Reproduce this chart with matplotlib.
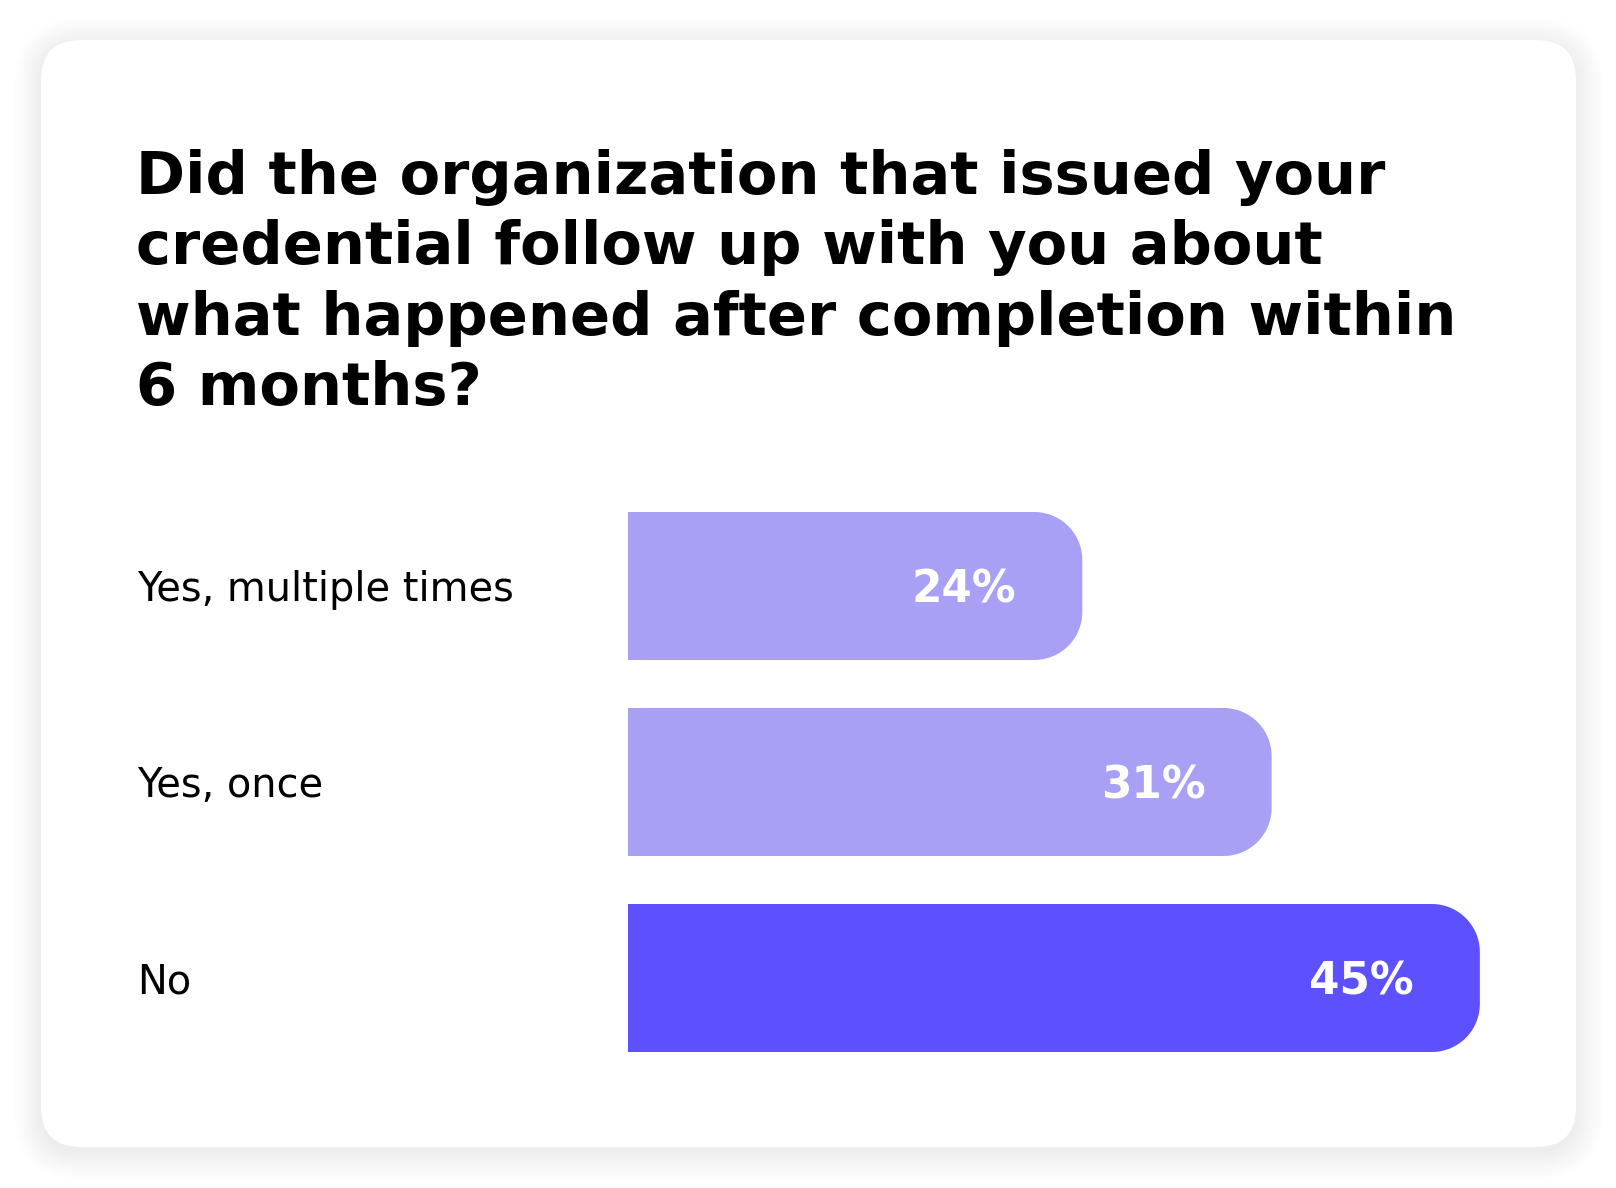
import numpy as np
import matplotlib
matplotlib.use("Agg")
import matplotlib.pyplot as plt
from matplotlib.patches import FancyBboxPatch, Polygon

# ---- data ----
title_lines = [
    "Did the organization that issued your",
    "credential follow up with you about",
    "what happened after completion within",
    "6 months?",
]
categories = ["Yes, multiple times", "Yes, once", "No"]
bar_lengths = [24, 34, 45]          # bar lengths as drawn in the picture
value_labels = ["24%", "31%", "45%"]  # printed labels
bar_colors = ["#A7A0F4", "#A7A0F4", "#5C50FF"]

W, H = 1616, 1188
fig = plt.figure(figsize=(W / 100, H / 100), dpi=100)
fig.patch.set_facecolor("white")

# background axes in pixel coordinates
bg = fig.add_axes([0, 0, 1, 1])
bg.set_xlim(0, W)
bg.set_ylim(H, 0)
bg.axis("off")

cx0, cy0, cx1, cy1 = 41, 40, 1576, 1147
rad = 40
# soft shadow
for i in range(18):
    d = 1.6 * i
    sh = FancyBboxPatch((cx0 - d, cy0 - d + 5), (cx1 - cx0) + 2 * d, (cy1 - cy0) + 2 * d,
                        boxstyle=f"round,pad=0,rounding_size={rad + d}",
                        facecolor="#000000", edgecolor="none", alpha=0.0045, zorder=1)
    bg.add_patch(sh)
card = FancyBboxPatch((cx0, cy0), cx1 - cx0, cy1 - cy0,
                      boxstyle=f"round,pad=0,rounding_size={rad}",
                      facecolor="white", edgecolor="none", zorder=2)
bg.add_patch(card)

# title
for i, line in enumerate(title_lines):
    bg.text(136, 194 + i * 70.3, line, fontsize=42.6, fontweight="bold",
            family="DejaVu Sans", color="#000000", ha="left", va="baseline", zorder=3)

# bar axes
px_per_unit = 18.93
x0_px = 628
xmax = 50
row_px = 196
ax_left = x0_px / W
ax_w = xmax * px_per_unit / W
ax_top_px = 586 - row_px / 2
ax_h_px = 3 * row_px
ax = fig.add_axes([ax_left, 1 - (ax_top_px + ax_h_px) / H, ax_w, ax_h_px / H])
ax.set_xlim(0, xmax)
ax.set_ylim(2.5, -0.5)
ax.patch.set_alpha(0)
for s in ax.spines.values():
    s.set_visible(False)
ax.set_xticks([])

bar_h = 148 / row_px
r_px = 48
rx = r_px / px_per_unit
ry = r_px / row_px
for i, (v, c) in enumerate(zip(bar_lengths, bar_colors)):
    yt = i - bar_h / 2
    yb = i + bar_h / 2
    t1 = np.linspace(-np.pi / 2, 0, 20)
    t2 = np.linspace(0, np.pi / 2, 20)
    pts = [(0, yt), (v - rx, yt)]
    pts += [(v - rx + rx * np.cos(t), yt + ry + ry * np.sin(t)) for t in t1]
    pts += [(v - rx + rx * np.cos(t), yb - ry + ry * np.sin(t)) for t in t2]
    pts += [(v - rx, yb), (0, yb)]
    ax.add_patch(Polygon(pts, closed=True, facecolor=c, edgecolor="none", zorder=3))
    ax.text(v - 66 / px_per_unit, i + 17 / row_px, value_labels[i], color="white", fontsize=31.5,
            fontweight="bold", family="DejaVu Sans", ha="right", va="baseline", zorder=4)

ax.set_yticks(range(len(categories)))
ax.set_yticklabels(categories, ha="left", fontsize=28.7, family="DejaVu Sans", color="#000000")
ax.tick_params(axis="y", length=0, pad=(x0_px - 137) * 0.72)

fig.savefig("out.png", dpi=100, facecolor="white")
